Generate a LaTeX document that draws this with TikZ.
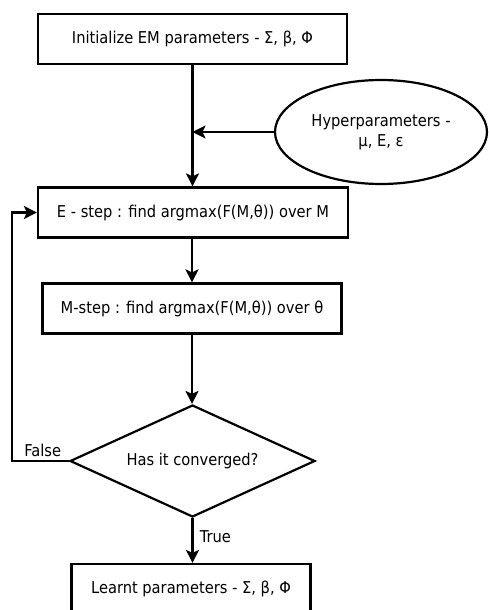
\documentclass[tikz,border=0pt]{standalone}
\usepackage{fontspec}
\setmainfont{DejaVu Sans Condensed}
\usetikzlibrary{shapes.geometric,arrows.meta}

\tikzset{
  block/.style={draw, line width=2.2pt, minimum height=50pt, inner sep=0pt},
  ellip/.style={draw, ellipse, line width=2.2pt, minimum width=212pt, minimum height=104pt, align=center, inner sep=0pt},
  decision/.style={draw, diamond, line width=2.2pt, minimum width=245pt, minimum height=112pt, inner sep=0pt, aspect=2.2},
  line/.style={line width=2.2pt, -{Stealth[length=13pt,width=13pt,inset=3pt]}},
}

\begin{document}
\begin{tikzpicture}[x=1pt,y=-1pt,font=\fontsize{16.3}{20}\selectfont]
            \useasboundingbox (0,0) rectangle (488,610);
            \clip (0,0) rectangle (488,610);

            \node[block, minimum width=309pt] (init) at (192.5,39) {Initialize EM parameters - Σ, β, Φ};
            \node[ellip] (hyper) at (381,132) {Hyperparameters -\\μ, E, ε};
            \node[block, minimum width=310pt] (estep) at (193,212.5) {E - step : find argmax(F(M,θ)) over M};
            \node[block, minimum width=299pt] (mstep) at (192,308.5) {M-step : find argmax(F(M,θ)) over θ};
            \node[decision] (conv) at (192.5,461) {Has it converged?};
            \node[block, minimum width=239pt] (learnt) at (191,589) {Learnt parameters - Σ, β, Φ};

            \coordinate (join) at (init.south |- hyper.west);
            \coordinate (back) at (12,0);

            \draw[line] (init.south) -- (init.south |- estep.north);
            \draw[line] (hyper.west) -- (join);
            \draw[line] (estep.south -| mstep.north) -- (mstep.north);
            \draw[line] (mstep.south) -- (mstep.south |- conv.north);
            \draw[line] (conv.west) -- (back |- conv.west) node[above right, xshift=8pt] {False}
              -- (back |- estep.west) -- (estep.west);
            \draw[line] (conv.south) -- node[right=3pt, pos=0.42] {True} (conv.south |- learnt.north);
\end{tikzpicture}
\end{document}
